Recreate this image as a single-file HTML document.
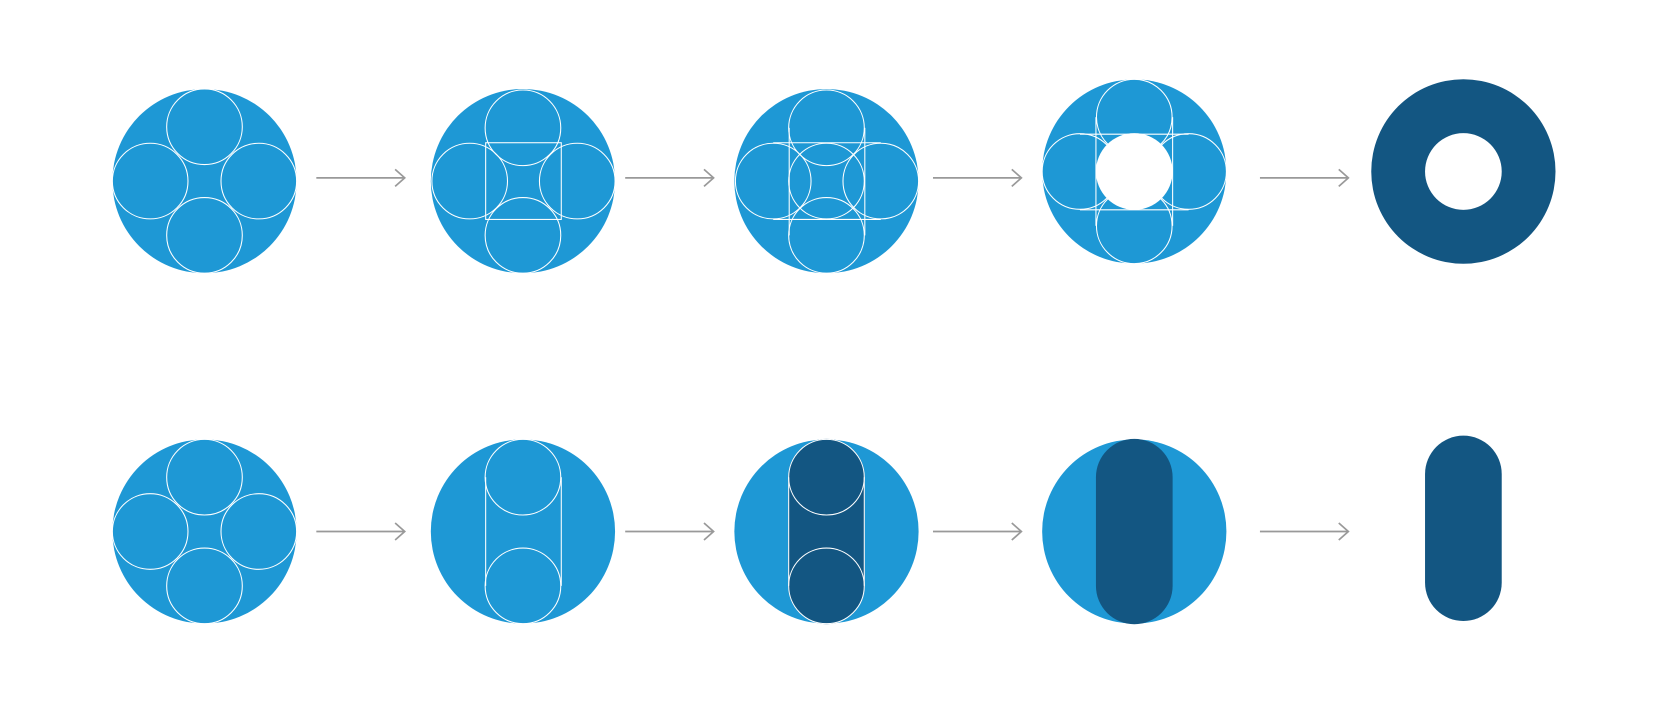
<!DOCTYPE html>
<html><head><meta charset="utf-8"><style>html,body{margin:0;padding:0;background:#fff}svg{display:block}</style></head>
<body>
<svg width="1670" height="719" viewBox="0 0 1568 675" preserveAspectRatio="none" xmlns="http://www.w3.org/2000/svg">
<defs>
<g id="arr" fill="none" stroke="#999" stroke-width="1.6"><line x1="0" y1="0" x2="83" y2="0"/><polyline points="74,-8 83,0 74,8"/></g>
</defs>
<g fill="#1e98d5">
<circle cx="192" cy="170" r="86.5"/><circle cx="491" cy="170" r="86.5"/><circle cx="776" cy="170" r="86.5"/><circle cx="1065" cy="161" r="86.5"/>
<circle cx="192" cy="499" r="86.5"/><circle cx="491" cy="499" r="86.5"/><circle cx="776" cy="499" r="86.5"/><circle cx="1065" cy="499" r="86.5"/>
</g>
<path fill="#135682" fill-rule="evenodd" d="M1287.5 161a86.5 86.5 0 1 0 173 0a86.5 86.5 0 1 0 -173 0ZM1338 161a36 36 0 1 0 72 0a36 36 0 1 0 -72 0Z"/>
<circle cx="1065" cy="161" r="36" fill="#fff"/>
<rect x="740" y="412" width="72" height="174" rx="36" fill="#135682"/>
<rect x="1029" y="412" width="72" height="174" rx="36" fill="#135682"/>
<rect x="1338" y="409" width="72" height="174" rx="36" fill="#135682"/>
<g fill="none" stroke="#fff" stroke-width="1">
<!-- row1 c1 -->
<circle cx="192" cy="119" r="35.5"/><circle cx="141" cy="170" r="35.5"/><circle cx="243" cy="170" r="35.5"/><circle cx="192" cy="221" r="35.5"/>
<!-- row1 c2 -->
<circle cx="491" cy="120" r="35.5"/><circle cx="441" cy="170" r="35.5"/><circle cx="542" cy="170" r="35.5"/><circle cx="491" cy="221" r="35.5"/>
<rect x="456" y="134" width="71" height="72"/>
<!-- row1 c3 -->
<circle cx="776" cy="120" r="35.5"/><circle cx="726" cy="170" r="35.5"/><circle cx="827" cy="170" r="35.5"/><circle cx="776" cy="221" r="35.5"/><circle cx="776" cy="170" r="35.5"/>
<line x1="741" y1="120" x2="741" y2="221"/><line x1="812" y1="120" x2="812" y2="221"/>
<line x1="726" y1="134" x2="827" y2="134"/><line x1="726" y1="206" x2="827" y2="206"/>
<!-- row1 c4 -->
<circle cx="1065" cy="110" r="35.5"/><circle cx="1014" cy="161" r="35.5"/><circle cx="1116" cy="161" r="35.5"/><circle cx="1065" cy="212" r="35.5"/>
<line x1="1029" y1="110" x2="1029" y2="212"/><line x1="1101" y1="110" x2="1101" y2="212"/>
<line x1="1014" y1="126" x2="1116" y2="126"/><line x1="1014" y1="197" x2="1116" y2="197"/>
<!-- row2 c1 -->
<circle cx="192" cy="448" r="35.5"/><circle cx="141" cy="499" r="35.5"/><circle cx="243" cy="499" r="35.5"/><circle cx="192" cy="550" r="35.5"/>
<!-- row2 c2 -->
<circle cx="491" cy="448" r="35.5"/><circle cx="491" cy="550" r="35.5"/>
<line x1="456" y1="448" x2="456" y2="550"/><line x1="527" y1="448" x2="527" y2="550"/>
<!-- row2 c3 -->
<circle cx="776" cy="448" r="35.5"/><circle cx="776" cy="550" r="35.5"/>
<line x1="740.5" y1="448" x2="740.5" y2="550"/><line x1="811.5" y1="448" x2="811.5" y2="550"/>
</g>
<use href="#arr" x="297" y="167"/><use href="#arr" x="587" y="167"/><use href="#arr" x="876" y="167"/><use href="#arr" x="1183" y="167"/>
<use href="#arr" x="297" y="499"/><use href="#arr" x="587" y="499"/><use href="#arr" x="876" y="499"/><use href="#arr" x="1183" y="499"/>
</svg>
</body></html>
